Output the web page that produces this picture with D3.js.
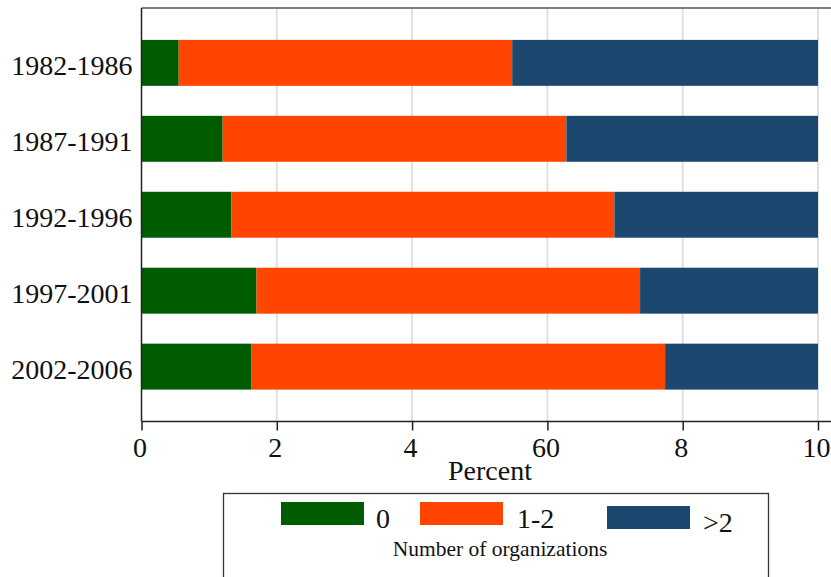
<!DOCTYPE html>
<html>
<head>
<meta charset="utf-8">
<script src="https://cdn.jsdelivr.net/npm/d3@7"></script>
<style>
  html, body { margin: 0; padding: 0; background: #fff; }
  svg { display: block; }
  svg text { font-family: "Liberation Serif", "Times New Roman", serif; }
</style>
</head>
<body>
<svg id="chart" width="831" height="577"></svg>
<script>
const periods = ["1982-1986", "1987-1991", "1992-1996", "1997-2001", "2002-2006"];
const seriesNames = ["0", "1-2", ">2"];
const zeroOrgs = [5.5, 12.0, 13.3, 17.0, 16.2];
const oneTwoOrgs = [49.3, 50.8, 56.6, 56.7, 61.2];
const moreOrgs = [45.2, 37.2, 30.1, 26.3, 22.6];
const tickValues = [0, 20, 40, 60, 80, 100];
const tickLabels = ["0", "2", "4", "60", "8", "10"];
const colors = ["#005c00", "#ff4500", "#1c4870"];

const rows = periods.map((p, i) => ({ period: p, "0": zeroOrgs[i], "1-2": oneTwoOrgs[i], ">2": moreOrgs[i] }));
const stacked = d3.stack().keys(seriesNames)(rows);

const svg = d3.select("#chart");
const plotLeft = 141.5, plotRight = 818, plotTop = 8, plotBottom = 421.5;

const x = d3.scaleLinear().domain([0, 100]).range([plotLeft, plotRight]);
const y = d3.scaleBand().domain(periods).range([plotTop, plotBottom]).paddingInner(0.395).paddingOuter(0.42);
const color = d3.scaleOrdinal().domain(seriesNames).range(colors);

// gridlines
svg.append("g").selectAll("line").data(tickValues.slice(1)).join("line")
  .attr("x1", d => x(d)).attr("x2", d => x(d))
  .attr("y1", plotTop).attr("y2", plotBottom)
  .attr("stroke", "#e0e0e0").attr("stroke-width", 2);

// bars
svg.append("g").selectAll("g").data(stacked).join("g")
  .attr("fill", d => color(d.key))
  .selectAll("rect").data(d => d).join("rect")
  .attr("x", d => x(d[0]))
  .attr("width", d => x(d[1]) - x(d[0]))
  .attr("y", d => y(d.data.period))
  .attr("height", y.bandwidth());

// frame line on top
svg.append("line").attr("x1", plotLeft).attr("x2", 831).attr("y1", plotTop).attr("y2", plotTop)
  .attr("stroke", "#555").attr("stroke-width", 1.5);

// x axis
const xAxis = d3.axisBottom(x).tickValues(tickValues).tickSize(9)
  .tickFormat((d, i) => tickLabels[i]);
const gx = svg.append("g").attr("transform", `translate(0,${plotBottom})`).call(xAxis);
gx.attr("font-family", null);
gx.select(".domain").remove();
gx.append("line").attr("x1", plotLeft).attr("x2", 831).attr("stroke", "#222").attr("stroke-width", 1.5);
gx.selectAll(".tick line").attr("stroke", "#222").attr("stroke-width", 1.5);
gx.selectAll(".tick text").attr("font-size", 28)
  .attr("fill", "#111").attr("y", 16).attr("dy", "0.71em").attr("dx", -2);

// y axis
const yAxis = d3.axisLeft(y).tickSize(0).tickPadding(9);
const gy = svg.append("g").attr("transform", `translate(${plotLeft},0)`).call(yAxis);
gy.attr("font-family", null);
gy.select(".domain").remove();
gy.append("line").attr("y1", plotTop).attr("y2", plotBottom).attr("stroke", "#222").attr("stroke-width", 1.5);
gy.selectAll(".tick text").attr("font-size", 28)
  .attr("fill", "#111").attr("dy", "0.45em");

// axis title
svg.append("text").attr("x", 490).attr("y", 480).attr("text-anchor", "middle")
  .attr("font-size", 28).attr("fill", "#111").text("Percent");

// legend
const lg = svg.append("g");
lg.append("rect").attr("x", 223.5).attr("y", 493.5).attr("width", 545).attr("height", 100)
  .attr("fill", "#fff").attr("stroke", "#333").attr("stroke-width", 1.3);
const legendItems = [
  { key: "0", sx: 281, sy: 502, tx: 376, ty: 528 },
  { key: "1-2", sx: 420, sy: 502, tx: 517, ty: 528 },
  { key: ">2", sx: 607, sy: 506, tx: 703, ty: 532 }
];
const li = lg.selectAll("g.item").data(legendItems).join("g").attr("class", "item");
li.append("rect").attr("x", d => d.sx).attr("y", d => d.sy).attr("width", 83).attr("height", 23)
  .attr("fill", d => color(d.key));
li.append("text").attr("x", d => d.tx).attr("y", d => d.ty).attr("font-size", 28)
  .attr("fill", "#111").text(d => d.key);
lg.append("text").attr("x", 500).attr("y", 556).attr("text-anchor", "middle")
  .attr("font-size", 21.5).attr("fill", "#111").text("Number of organizations");
</script>
</body>
</html>
